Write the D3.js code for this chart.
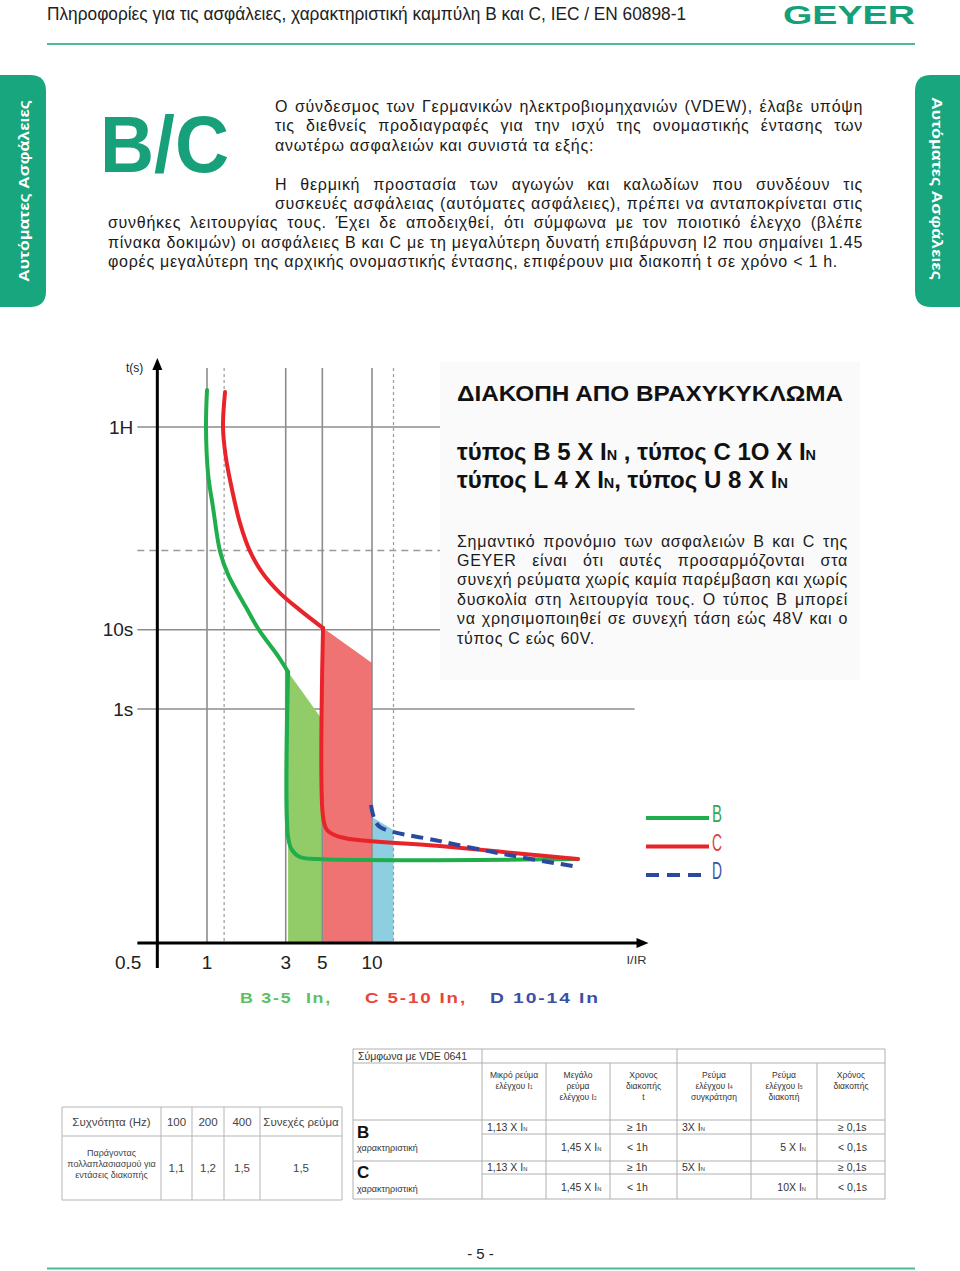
<!DOCTYPE html>
<html><head><meta charset="utf-8">
<script src="https://cdn.jsdelivr.net/npm/d3@7"></script>
<style>
body{margin:0;background:#fff}
svg{display:block}
text{font-family:'Liberation Sans',Arial,Helvetica,sans-serif}
</style>
</head><body>
<svg id="page" width="960" height="1271"></svg>
<script>
// ---------------- chart data ----------------
const xTickValues = [0.5, 1, 3, 5, 10];
const xTickLabels = ["0.5", "1", "3", "5", "10"];
const yTickValues = [3600, 10, 1];
const yTickLabels = ["1H", "10s", "1s"];
const yDashedValues = [100];
const xGridSolid = [1, 3, 5, 10];
const xGridDotted = [1.27, 13.5];
const yDomain = [0.00112, 20000];
const xGridEnd = 390;

// curves: [I/IR, t(s)]
const bThermal = [[1.0,10540],[0.986,3600],[1.014,946],[1.087,352],[1.199,98],[1.34,50],[1.72,19.3],[2.05,10.2],[2.72,4.52],[3.10,2.93]];
const bMagnetic = [[3.10,2.93],[3.10,0.0243],[3.27,0.0167],[3.66,0.0136],[4.64,0.0128],[177,0.0128]];
const cThermal = [[1.286,9940],[1.25,3600],[1.30,1507],[1.42,578],[1.585,221],[1.82,98],[2.15,53.4],[2.77,29.0],[3.66,17.7],[5.05,10.5]];
const cMagnetic = [[5.05,10.5],[5.05,0.0435],[5.34,0.0298],[6.40,0.0243],[25.8,0.0187],[177,0.0128]];
const dMagnetic = [[9.86,0.0616],[10.3,0.0422],[11.2,0.0325],[25.8,0.0216],[67.6,0.0144],[177,0.0102]];

// tripping bands: top edge [I, t] left and right
const bandB = [[3.10,2.93],[5.0,0.73]];
const bandC = [[5.05,10.5],[10,3.8]];
const bandD = [[10,0.0435],[13.5,0.0298]];

const legendNames = ["B", "C", "D"];
const bandLabels = ["B 3-5  In,", "C 5-10 In,", "D 10-14 In"];

// tables
const freqHeader = ["Συχνότητα (Hz)", "100", "200", "400", "Συνεχές ρεύμα"];
const freqRowLabel = ["Παράγοντας", "πολλαπλασιασμού για", "εντάσεις διακοπής"];
const freqValues = ["1,1", "1,2", "1,5", "1,5"];

const vdeTitle = "Σύμφωνα με VDE 0641";
const vdeHeaders = [["Μικρό ρεύμα","ελέγχου I|1"],["Μεγάλο","ρεύμα","ελέγχου I|2"],["Χρονος","διακοπής","t"],["Ρεύμα","ελέγχου I|4","συγκράτηση"],["Ρεύμα","ελέγχου I|5","διακοπή"],["Χρόνος","διακοπής"]];
const vdeB = [["1,13 X I|N","","≥ 1h","3X I|N","","≥ 0,1s"],["","1,45 X I|N","< 1h","","5 X I|N","< 0,1s"]];
const vdeC = [["1,13 X I|N","","≥ 1h","5X I|N","","≥ 0,1s"],["","1,45 X I|N","< 1h","","10X I|N","< 0,1s"]];

// ---------------- drawing ----------------
const svg = d3.select("#page");
const TEAL = "#17a67d";

// header
svg.append("text").attr("x",47).attr("y",19.5).attr("font-size",18)
  .style("font-family","'Liberation Sans Narrow','Liberation Sans',Arial,sans-serif")
  .attr("fill","#222").attr("textLength",639).attr("lengthAdjust","spacingAndGlyphs")
  .text("Πληροφορίες για τις ασφάλειες, χαρακτηριστική καμπύλη B και C, IEC / EN 60898-1");
svg.append("text").attr("x",783).attr("y",24).attr("font-size",26).attr("font-weight","bold")
  .attr("fill","#14a078").attr("textLength",132).attr("lengthAdjust","spacingAndGlyphs").text("GEYER");
svg.append("line").attr("x1",47).attr("x2",915).attr("y1",44).attr("y2",44)
  .attr("stroke","#4fb99b").attr("stroke-width",2);

// side tabs
svg.append("path").attr("fill",TEAL)
  .attr("d","M0,75 H30 Q46,75 46,91 V291 Q46,307 30,307 H0 Z");
svg.append("path").attr("fill",TEAL)
  .attr("d","M960,75 H931 Q915,75 915,91 V291 Q915,307 931,307 H960 Z");
svg.append("text").attr("transform","translate(28.5,191) rotate(-90)").attr("text-anchor","middle")
  .attr("font-size",15).attr("font-weight","bold").attr("fill","#fff")
  .attr("textLength",182).attr("lengthAdjust","spacingAndGlyphs").text("Αυτόματες Ασφάλειες");
svg.append("text").attr("transform","translate(931.5,188.5) rotate(90)").attr("text-anchor","middle")
  .attr("font-size",15).attr("font-weight","bold").attr("fill","#fff")
  .attr("textLength",183).attr("lengthAdjust","spacingAndGlyphs").text("Αυτόματες Ασφάλειες");

// B/C logo
svg.append("text").attr("x",100).attr("y",172).attr("font-size",80).attr("font-weight","bold")
  .attr("fill","#18a07a").attr("textLength",129).attr("lengthAdjust","spacingAndGlyphs").text("B/C");

// paragraph helpers: common letter spacing derived from a natural (unjustified) line
const BODY_FS = 16;
function measure(str){
  const t = svg.append("text").attr("font-size",BODY_FS).text(str);
  const w = t.node().getComputedTextLength(); t.remove(); return w;
}
const refLine = "φορές μεγαλύτερη της αρχικής ονομαστικής έντασης, επιφέρουν μια διακοπή t σε χρόνο < 1 h.";
const LS = Math.max(0, (730 - measure(refLine)) / refLine.length);

function justify(sel, width){
  const n = sel.node();
  const nat = n.getComputedTextLength();
  const sp = (sel.text().match(/ /g)||[]).length;
  if (sp>0) sel.attr("word-spacing", ((width-nat)/sp).toFixed(2));
}
function bodyLine(str, xx, yy, right){
  const s = svg.append("text").attr("x",xx).attr("y",yy).attr("font-size",BODY_FS).attr("fill","#1a1a1a")
    .attr("letter-spacing",LS.toFixed(3)).text(str);
  if (right) justify(s, right-xx);
  return s;
}

const intro = [
 {t:"Ο σύνδεσμος των Γερμανικών ηλεκτροβιομηχανιών (VDEW), έλαβε υπόψη", x:275, y:111.5, r:863},
 {t:"τις διεθνείς προδιαγραφές για την ισχύ της ονομαστικής έντασης των", x:275, y:131, r:863},
 {t:"ανωτέρω ασφαλειών και συνιστά τα εξής:", x:275, y:150.5, r:0},
 {t:"Η θερμική προστασία των αγωγών και καλωδίων που συνδέουν τις", x:275, y:189.5, r:863},
 {t:"συσκευές ασφάλειας (αυτόματες ασφάλειες), πρέπει να ανταποκρίνεται στις", x:275, y:208.5, r:863},
 {t:"συνθήκες λειτουργίας τους. Έχει δε αποδειχθεί, ότι σύμφωνα με τον ποιοτικό έλεγχο (βλέπε", x:108, y:228, r:863},
 {t:"πίνακα δοκιμών) οι ασφάλειες B και C με τη μεγαλύτερη δυνατή επιβάρυνση I2 που σημαίνει 1.45", x:108, y:247.5, r:863},
 {t:refLine, x:108, y:266.5, r:0}
];
intro.forEach(l=>bodyLine(l.t, l.x, l.y, l.r));

// ---------------- chart ----------------
const x = d3.scaleLog().domain([1,10]).range([207,372]);
const y = d3.scaleLog().domain(yDomain).range([943,368]);
const x0 = x(0.5), yBot = y(yDomain[0]), yTop = y(yDomain[1]);
const g = svg.append("g");

// horizontal grid
g.selectAll(".hg").data(yTickValues).join("line")
  .attr("x1",x0-20).attr("x2",x(xGridEnd)).attr("y1",d=>y(d)).attr("y2",d=>y(d))
  .attr("stroke","#8c8c8c").attr("stroke-width",1.6);
g.selectAll(".hd").data(yDashedValues).join("line")
  .attr("x1",x0-20).attr("x2",x(xGridEnd)).attr("y1",d=>y(d)).attr("y2",d=>y(d))
  .attr("stroke","#9a9a9a").attr("stroke-width",1.5).attr("stroke-dasharray","7,5");

// bands
function band(b){
  return [[x(b[0][0]),y(b[0][1])],[x(b[1][0]),y(b[1][1])],[x(b[1][0]),yBot],[x(b[0][0]),yBot]];
}
[[bandB,"#92cc68"],[bandC,"#f07373"],[bandD,"#8dcfe0"]].forEach(([b,c])=>{
  g.append("polygon").attr("points",band(b).map(p=>p.join(",")).join(" ")).attr("fill",c);
});

// vertical grid
g.selectAll(".vg").data(xGridSolid).join("line")
  .attr("x1",d=>x(d)).attr("x2",d=>x(d)).attr("y1",yTop).attr("y2",yBot)
  .attr("stroke","#8c8c8c").attr("stroke-width",1.6);
g.selectAll(".vd").data(xGridDotted).join("line")
  .attr("x1",d=>x(d)).attr("x2",d=>x(d)).attr("y1",yTop).attr("y2",yBot)
  .attr("stroke","#9a9a9a").attr("stroke-width",1.2).attr("stroke-dasharray","3,3");

// text box background
svg.append("rect").attr("x",440).attr("y",362).attr("width",420).attr("height",318).attr("fill","#fafafa");

// curves
const line = d3.line().x(d=>x(d[0])).y(d=>y(d[1])).curve(d3.curveCatmullRom.alpha(0.5));
const GREEN="#1fae4b", RED="#e8242a", BLUE="#2b4a9f";
[[bThermal,GREEN],[bMagnetic,GREEN],[cThermal,RED],[cMagnetic,RED]].forEach(([d,c])=>{
  g.append("path").attr("d",line(d)).attr("fill","none").attr("stroke",c).attr("stroke-width",4)
   .attr("stroke-linecap","round").attr("stroke-linejoin","round");
});
g.append("path").attr("d",line(dMagnetic)).attr("fill","none").attr("stroke",BLUE).attr("stroke-width",4)
  .attr("stroke-dasharray","12,7");

// axes
g.append("line").attr("x1",x0).attr("x2",x0).attr("y1",yBot+25).attr("y2",yTop-2)
  .attr("stroke","#000").attr("stroke-width",3);
g.append("path").attr("d",`M${x0-5},${yTop+2} L${x0},${yTop-10} L${x0+5},${yTop+2} Z`).attr("fill","#000");
const xAxEnd = x(xGridEnd)+8;
g.append("line").attr("x1",x0-20).attr("x2",xAxEnd-4).attr("y1",yBot).attr("y2",yBot)
  .attr("stroke","#000").attr("stroke-width",3);
g.append("path").attr("d",`M${xAxEnd-6},${yBot-5} L${xAxEnd+6},${yBot} L${xAxEnd-6},${yBot+5} Z`).attr("fill","#000");

g.selectAll(".yl").data(yTickValues).join("text")
  .attr("x",x0-24).attr("y",d=>y(d)+6.5).attr("text-anchor","end").attr("font-size",19).attr("fill","#222")
  .text((d,i)=>yTickLabels[i]);
g.append("text").attr("x",x0-14).attr("y",yTop+4).attr("text-anchor","end").attr("font-size",12).attr("fill","#222").text("t(s)");
g.selectAll(".xl").data(xTickValues).join("text")
  .attr("x",(d,i)=>i===0? x0-16 : x(d)).attr("y",yBot+26)
  .attr("text-anchor",(d,i)=>i===0?"end":"middle").attr("font-size",19).attr("fill","#222")
  .text((d,i)=>xTickLabels[i]);
g.append("text").attr("x",xAxEnd-16).attr("y",yBot+21).attr("font-size",11).attr("fill","#333")
  .attr("textLength",20).attr("lengthAdjust","spacingAndGlyphs").text("I/IR");

// legend
const legColors=[GREEN,RED,BLUE];
const legText=["#3aa64b","#e0403a","#3b4fa3"];
legendNames.forEach((n,i)=>{
  const ly = 818 + i*28.5;
  g.append("line").attr("x1",646).attr("x2",709).attr("y1",ly).attr("y2",ly).attr("stroke",legColors[i])
    .attr("stroke-width",4).attr("stroke-dasharray", i===2?"13,8":null);
  g.append("text").attr("x",712).attr("y",ly+4).attr("font-size",24).attr("fill",legText[i])
    .attr("textLength",10).attr("lengthAdjust","spacingAndGlyphs").text(n);
});
const bandLabelColors=["#5cbf62","#e8453c","#3c4fa5"];
const bandLabelX=[[240,332],[365,467],[490,600]];
bandLabels.forEach((t,i)=>{
  g.append("text").attr("x",bandLabelX[i][0]).attr("y",1003).attr("font-size",15).attr("font-weight","bold")
   .attr("fill",bandLabelColors[i]).attr("textLength",bandLabelX[i][1]-bandLabelX[i][0])
   .attr("lengthAdjust","spacingAndGlyphs").attr("letter-spacing",1.5).style("white-space","pre").text(t);
});

// ---------- text box ----------
svg.append("text").attr("x",457).attr("y",401).attr("font-size",22).attr("font-weight","bold").attr("fill","#111")
  .attr("textLength",386).attr("lengthAdjust","spacingAndGlyphs").text("ΔΙΑΚΟΠΗ ΑΠΟ ΒΡΑΧΥΚΥΚΛΩΜΑ");
function richLine(parts, xx, yy, fs, w){
  const t = svg.append("text").attr("x",xx).attr("y",yy).attr("font-size",fs).attr("font-weight","bold").attr("fill","#111")
    .style("white-space","pre");
  parts.forEach(p=>{
    const ts = t.append("tspan").text(p[0]);
    if (p[1]) ts.attr("font-size",fs*0.6);
  });
  t.attr("textLength",w).attr("lengthAdjust","spacingAndGlyphs");
}
richLine([["τύπος B 5 X I"],["N",1],[" , τύπος C 1O X I"],["N",1]],457,460,23,359);
richLine([["τύπος L 4 X I"],["N",1],[", τύπος U 8 X I"],["N",1]],457,488,23,331);

const boxLines = [
 "Σημαντικό προνόμιο των ασφαλειών B και C της",
 "GEYER είναι ότι αυτές προσαρμόζονται στα",
 "συνεχή ρεύματα χωρίς καμία παρέμβαση και χωρίς",
 "δυσκολία στη λειτουργία τους. Ο τύπος B μπορεί",
 "να χρησιμοποιηθεί σε συνεχή τάση εώς 48V και ο",
 "τύπος C εώς 60V."
];
boxLines.forEach((t,i)=>bodyLine(t, 457, 546.5+i*19.4, i===5? 0 : 848));

// ---------- frequency table ----------
const fCols=[62,161,192,224,260,342], fRows=[1107,1136,1200];
const ft = svg.append("g").attr("fill","#444");
fRows.forEach(r=>ft.append("line").attr("x1",fCols[0]).attr("x2",fCols[5]).attr("y1",r).attr("y2",r).attr("stroke","#b5b5b5"));
fCols.forEach(c=>ft.append("line").attr("x1",c).attr("x2",c).attr("y1",fRows[0]).attr("y2",fRows[2]).attr("stroke","#b5b5b5"));
freqHeader.forEach((h,i)=>{
  ft.append("text").attr("x",(fCols[i]+fCols[i+1])/2).attr("y",1125.5).attr("text-anchor","middle")
    .attr("font-size",11.5).text(h);
});
freqRowLabel.forEach((h,i)=>{
  ft.append("text").attr("x",(fCols[0]+fCols[1])/2).attr("y",1156+i*11).attr("text-anchor","middle")
    .attr("font-size",9).text(h);
});
freqValues.forEach((v,i)=>{
  ft.append("text").attr("x",(fCols[i+1]+fCols[i+2])/2).attr("y",1172).attr("text-anchor","middle")
    .attr("font-size",11.5).text(v);
});

// ---------- VDE table ----------
const vCols=[353,482,546,610,677,751,817,885];
const vRows=[1049,1063,1120,1134,1161,1174,1199];
const vt = svg.append("g").attr("fill","#333");
const st = "#b0b0b0";
function hl(x1,x2,yy){vt.append("line").attr("x1",x1).attr("x2",x2).attr("y1",yy).attr("y2",yy).attr("stroke",st);}
function vl(xx,y1,y2){vt.append("line").attr("x1",xx).attr("x2",xx).attr("y1",y1).attr("y2",y2).attr("stroke",st);}
[vRows[0],vRows[1],vRows[2],vRows[4],vRows[6]].forEach(r=>hl(vCols[0],vCols[7],r));
hl(vCols[1],vCols[7],vRows[3]); hl(vCols[1],vCols[7],vRows[5]);
[vCols[0],vCols[1],vCols[4],vCols[7]].forEach(c=>vl(c,vRows[0],vRows[6]));
[vCols[2],vCols[3],vCols[5],vCols[6]].forEach(c=>vl(c,vRows[1],vRows[6]));

function cellText(str, xx, yy, fs, anchor){
  const t = vt.append("text").attr("x",xx).attr("y",yy).attr("font-size",fs).attr("text-anchor",anchor||"start");
  const parts = str.split("|");
  t.append("tspan").text(parts[0]);
  if (parts[1]) t.append("tspan").attr("font-size",fs*0.55).text(parts[1]);
  return t;
}
cellText(vdeTitle, 358, 1060, 10.5);
vdeHeaders.forEach((lines,i)=>{
  const cx=(vCols[i+1]+vCols[i+2])/2;
  lines.forEach((l,j)=>cellText(l,cx,1078+j*11,8.5,"middle"));
});
const colX = [[487,"start"],[561,"start"],[627,"start"],[682,"start"],[806,"end"],[838,"start"]];
function dataRows(rows, y1, y2){
  rows.forEach((r,ri)=>{
    r.forEach((c,ci)=>{ if(c) cellText(c, colX[ci][0], ri===0?y1:y2, 10.5, colX[ci][1]); });
  });
}
dataRows(vdeB,1131,1151);
dataRows(vdeC,1171,1191);
vt.append("text").attr("x",357).attr("y",1138).attr("font-size",17).attr("font-weight","bold").attr("fill","#111").text("B");
vt.append("text").attr("x",357).attr("y",1151).attr("font-size",9).text("χαρακτηριστική");
vt.append("text").attr("x",357).attr("y",1178).attr("font-size",17).attr("font-weight","bold").attr("fill","#111").text("C");
vt.append("text").attr("x",357).attr("y",1192).attr("font-size",9).text("χαρακτηριστική");

// footer
svg.append("text").attr("x",480.5).attr("y",1259).attr("text-anchor","middle").attr("font-size",15).attr("fill","#222").text("- 5 -");
svg.append("line").attr("x1",47).attr("x2",915).attr("y1",1268.5).attr("y2",1268.5).attr("stroke","#4fb99b").attr("stroke-width",2);
</script>
</body></html>
